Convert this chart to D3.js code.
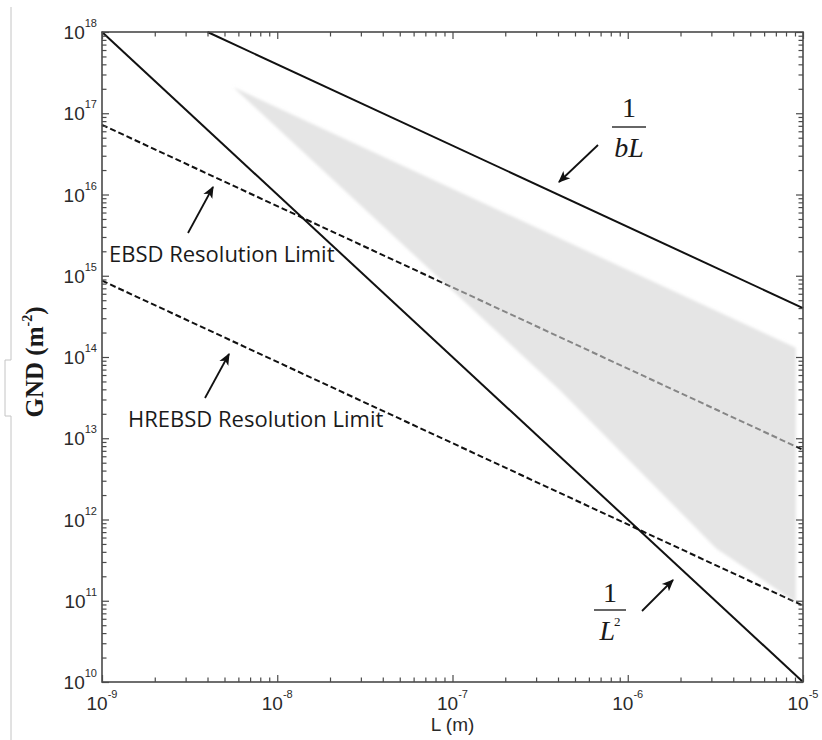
<!DOCTYPE html>
<html>
<head>
<meta charset="utf-8">
<script src="https://cdn.jsdelivr.net/npm/d3@7"></script>
<style>
  html, body { margin: 0; padding: 0; background: #fff; }
  svg { display: block; }
</style>
</head>
<body>
<svg id="chart" width="822" height="740"></svg>
<script>
// ---- data -------------------------------------------------------------
const lengthDomain = [1e-9, 1e-5];          // L (m)
const densityDomain = [1e10, 1e18];         // GND (m^-2)
const xTickExponents = [-9, -8, -7, -6, -5];
const yTickExponents = [10, 11, 12, 13, 14, 15, 16, 17, 18];

// upper bound 1/L^2
const inverseSquareL = [1e-9, 1e-5];
const inverseSquareRho = [1e18, 1e10];
// upper bound 1/(bL), b = 0.25 nm
const inverseBL_L = [4e-9, 1e-5];
const inverseBL_Rho = [1e18, 4e14];
// EBSD angular resolution limit
const ebsdL = [1e-9, 1e-5];
const ebsdRho = [7.2e16, 7.2e12];
// HR-EBSD angular resolution limit
const hrebsdL = [1e-9, 1e-5];
const hrebsdRho = [8.7e14, 8.7e10];
// shaded band of measurable densities (outline, clockwise)
const bandL = [5.0e-9, 9.1e-6, 9.1e-6, 5.5e-6, 3.2e-6, 4.1e-7, 5.6e-9];
const bandRho = [2.35e17, 1.3e14, 9.5e10, 2.0e11, 4.4e11, 3.9e13, 2.1e17];

// ---- layout -----------------------------------------------------------
const svg = d3.select("#chart");
const plot = { left: 102, right: 803, top: 32, bottom: 682 };

const x = d3.scaleLog().domain(lengthDomain).range([plot.left, plot.right]);
const y = d3.scaleLog().domain(densityDomain).range([plot.bottom, plot.top]);

const line = d3.line().x(d => x(d[0])).y(d => y(d[1]));
const zip = (a, b) => a.map((v, i) => [v, b[i]]);

// page border on the left
svg.append("path")
  .attr("d", "M11,7 V360 H5 V416 H11 V740")
  .attr("fill", "none").attr("stroke", "#c4c4c4").attr("stroke-width", 1);

// ---- curves -----------------------------------------------------------
const curves = svg.append("g").attr("fill", "none").attr("stroke", "#111");

curves.append("path").datum(zip(inverseSquareL, inverseSquareRho))
  .attr("d", line).attr("stroke-width", 2);
curves.append("path").datum(zip(inverseBL_L, inverseBL_Rho))
  .attr("d", line).attr("stroke-width", 2);
curves.append("path").datum(zip(ebsdL, ebsdRho))
  .attr("d", line).attr("stroke-width", 2).attr("stroke-dasharray", "6,3");
curves.append("path").datum(zip(hrebsdL, hrebsdRho))
  .attr("d", line).attr("stroke-width", 2).attr("stroke-dasharray", "6,3");

// translucent grey band drawn over the curves
const defs = svg.append("defs");
defs.append("filter").attr("id", "soft")
  .append("feGaussianBlur").attr("stdDeviation", 1.6);

svg.append("path").datum(zip(bandL, bandRho))
  .attr("d", d => line(d) + "Z")
  .attr("fill", "#d4d4d4").attr("fill-opacity", 0.6)
  .attr("filter", "url(#soft)");

// ---- axes (box with inward ticks on all four sides) --------------------
const minorX = [];
for (let e = -9; e < -5; e++) for (let m = 2; m <= 9; m++) minorX.push(m * Math.pow(10, e));
const minorY = [];
for (let e = 10; e < 18; e++) for (let m = 2; m <= 9; m++) minorY.push(m * Math.pow(10, e));
const majorX = xTickExponents.map(e => Math.pow(10, e));
const majorY = yTickExponents.map(e => Math.pow(10, e));

const axisColor = "#4a4a4a";
function styleAxis(g) {
  g.select(".domain").remove();
  g.selectAll(".tick line").attr("stroke", axisColor).attr("stroke-width", 1.2);
  g.selectAll(".tick text").remove();
}
const H = plot.bottom - plot.top, W = plot.right - plot.left;
[[majorX, 7], [minorX, 4.5]].forEach(([vals, len]) => {
  svg.append("g").attr("transform", `translate(0,${plot.bottom})`)
    .call(d3.axisBottom(x).tickValues(vals).tickSize(-len)).call(styleAxis);
  svg.append("g").attr("transform", `translate(0,${plot.top})`)
    .call(d3.axisTop(x).tickValues(vals).tickSize(-len)).call(styleAxis);
});
[[majorY, 7], [minorY, 4.5]].forEach(([vals, len]) => {
  svg.append("g").attr("transform", `translate(${plot.left},0)`)
    .call(d3.axisLeft(y).tickValues(vals).tickSize(-len)).call(styleAxis);
  svg.append("g").attr("transform", `translate(${plot.right},0)`)
    .call(d3.axisRight(y).tickValues(vals).tickSize(-len)).call(styleAxis);
});

svg.append("rect")
  .attr("x", plot.left).attr("y", plot.top).attr("width", W).attr("height", H)
  .attr("fill", "none").attr("stroke", axisColor).attr("stroke-width", 1.6);

// ---- tick labels --------------------------------------------------------
const tickFont = "'Liberation Sans', Arial, sans-serif";
const labels = svg.append("g").attr("font-family", tickFont).attr("fill", "#2a2a2a");

xTickExponents.forEach(e => {
  const t = labels.append("text")
    .attr("x", x(Math.pow(10, e))).attr("y", 710)
    .attr("text-anchor", "middle").attr("font-size", 19);
  t.append("tspan").text("10");
  t.append("tspan").attr("font-size", 11).attr("dy", -12).text(String(e));
});
yTickExponents.forEach(e => {
  const t = labels.append("text")
    .attr("x", 97).attr("y", y(Math.pow(10, e)) + 7)
    .attr("text-anchor", "end").attr("font-size", 19);
  t.append("tspan").text("10");
  t.append("tspan").attr("font-size", 11).attr("dy", -12).text(String(e));
});

// axis titles
svg.append("text")
  .attr("x", (plot.left + plot.right) / 2).attr("y", 731)
  .attr("text-anchor", "middle")
  .attr("font-family", tickFont).attr("font-size", 19).attr("fill", "#2a2a2a")
  .text("L (m)");

const yTitle = svg.append("text")
  .attr("transform", "translate(43,362) rotate(-90)")
  .attr("text-anchor", "middle")
  .attr("font-family", "'Liberation Serif', 'Times New Roman', serif")
  .attr("font-weight", "bold").attr("font-size", 25).attr("fill", "#1a1a1a");
yTitle.append("tspan").text("GND (m");
yTitle.append("tspan").attr("font-size", 14).attr("dy", -11).text("-2");
yTitle.append("tspan").attr("dy", 11).text(")");

// ---- annotations --------------------------------------------------------
defs.append("marker").attr("id", "head")
  .attr("viewBox", "0 0 10 10").attr("refX", 9).attr("refY", 5)
  .attr("markerWidth", 12).attr("markerHeight", 12).attr("markerUnits", "userSpaceOnUse")
  .attr("orient", "auto")
  .append("path").attr("d", "M0,0.8 L10,5 L0,9.2 L2.5,5 Z").attr("fill", "#111");

const arrows = [
  [598, 145, 559, 182],   // 1/(bL)
  [642, 611, 673, 580],   // 1/L^2
  [188, 233, 213, 187],   // EBSD
  [205, 398, 229, 354]    // HREBSD
];
svg.append("g").selectAll("line").data(arrows).join("line")
  .attr("x1", d => d[0]).attr("y1", d => d[1])
  .attr("x2", d => d[2]).attr("y2", d => d[3])
  .attr("stroke", "#111").attr("stroke-width", 1.8)
  .attr("marker-end", "url(#head)");

const noteFont = "'Open Sans', 'Noto Sans', sans-serif";
svg.append("text").attr("x", 109).attr("y", 262)
  .attr("font-family", noteFont).attr("font-size", 22).attr("fill", "#1a1a1a")
  .text("EBSD Resolution Limit");
svg.append("text").attr("x", 128).attr("y", 427)
  .attr("font-family", noteFont).attr("font-size", 22).attr("fill", "#1a1a1a")
  .text("HREBSD Resolution Limit");

const serif = "'Liberation Serif', 'Times New Roman', serif";
function fraction(cx, yNum, yBar, yDen, halfBar, den) {
  const g = svg.append("g").attr("font-family", serif).attr("fill", "#1a1a1a");
  g.append("text").attr("x", cx).attr("y", yNum).attr("text-anchor", "middle")
    .attr("font-size", 28).text("1");
  g.append("line").attr("x1", cx - halfBar).attr("x2", cx + halfBar)
    .attr("y1", yBar).attr("y2", yBar).attr("stroke", "#333").attr("stroke-width", 1.5);
  const t = g.append("text").attr("x", cx).attr("y", yDen).attr("text-anchor", "middle")
    .attr("font-size", 28).attr("font-style", "italic");
  den(t);
}
fraction(629, 117, 127, 157, 17, t => t.text("bL"));
fraction(610, 602, 610, 640, 16, t => {
  t.append("tspan").text("L");
  t.append("tspan").attr("font-size", 13).attr("dx", -1).attr("dy", -14).attr("font-style", "normal").text("2");
});
</script>
</body>
</html>
